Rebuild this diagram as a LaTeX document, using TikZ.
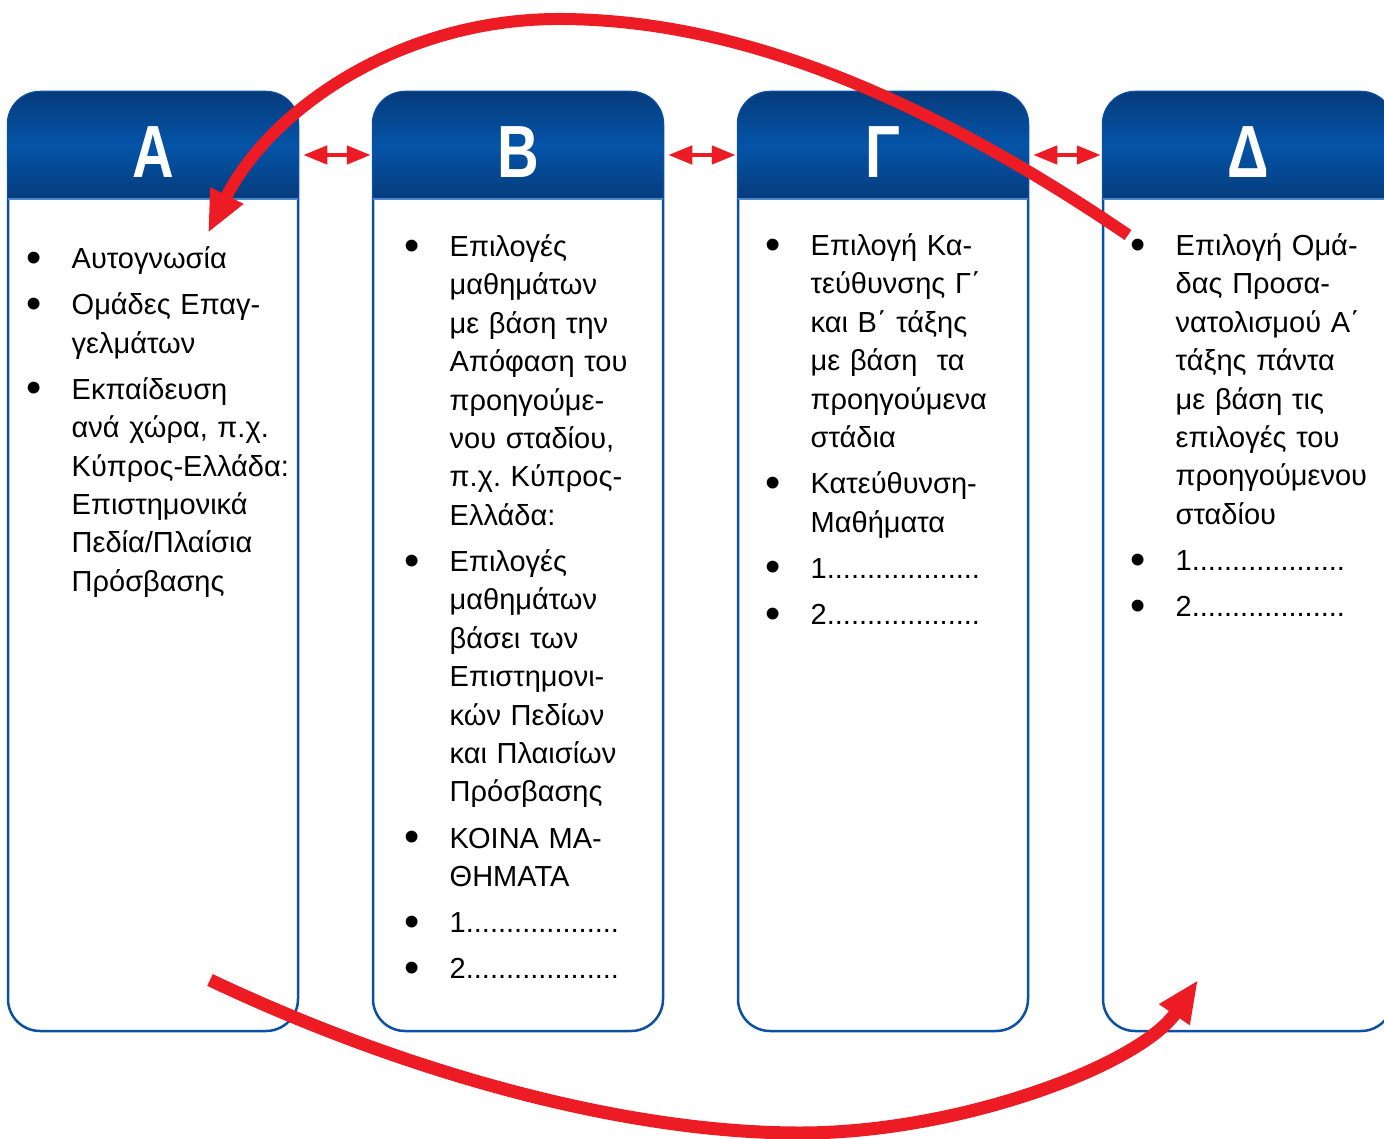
\documentclass[tikz,border=0pt]{standalone}
\usepackage{fontspec}
\setmainfont{Liberation Sans}
\usepackage{graphicx}
\usepackage{enumitem}
\usetikzlibrary{arrows.meta,positioning,calc}

\definecolor{hdrdark}{HTML}{063C7C}
\definecolor{hdrlight}{HTML}{0454A8}
\definecolor{rimblue}{HTML}{0C50A3}
\definecolor{rimlight}{HTML}{4A88D2}
\definecolor{arrred}{HTML}{ED1C24}

\newlist{stagelist}{itemize}{1}
\setlist[stagelist]{label={\makebox[10pt]{\raisebox{-3.5pt}{\scalebox{1.5}{\textbullet}}}},
  leftmargin=48.5pt, labelsep=33pt, labelwidth=10pt,
  topsep=0pt, partopsep=0pt, parsep=0pt, itemsep=7.8pt}
\frenchspacing

\begin{document}
\begin{tikzpicture}[x=1pt, y=-1pt,
    colbox/.style={draw=rimblue, line width=2.5pt, rounded corners=32pt, fill=white,
      minimum width=290pt, minimum height=939pt, inner sep=0pt},
    hdrfill/.style={top color=hdrdark, bottom color=hdrdark, middle color=hdrlight},
    hdrletter/.style={text=white, inner sep=0pt, font=\fontsize{74}{74}\selectfont\bfseries},
    stagetxt/.style={anchor=north west, inner sep=0pt, text width=300pt, align=left,
      font=\fontsize{29}{38.4}\selectfont},
    dblarr/.style={{Triangle[length=24pt,width=18pt]}-{Triangle[length=24pt,width=18pt]},
      line width=4.5pt, color=arrred, shorten <=4pt, shorten >=1pt},
    bigarr/.style={-{Triangle[length=42pt,width=34pt]}, line width=12pt, color=arrred},
  ]
  \useasboundingbox (0,0) rectangle (1384,1139);
  \clip (0,0) rectangle (1384,1139);

  % Stage columns with their headers
  \foreach \xl/\ltr/\nm in {8/Α/A, 373/Β/B, 738/Γ/G, 1103/Δ/D} {
    \node[colbox] (col\nm) at (\xl+145, 561.5) {};
    \path[hdrfill] (\xl,199) -- (\xl,124) arc[start angle=180, end angle=270, radius=32]
      -- (\xl+258,92) arc[start angle=270, end angle=360, radius=32] -- (\xl+290,199) -- cycle;
    \draw[rimlight, line width=2pt] (\xl,199) -- (\xl+290,199);
    \node[hdrletter] (hdr\nm) at (\xl+145,152) {\scalebox{0.78}[1]{\ltr}};
  }

  % Stage contents
  \node[stagetxt] (txtA) at (23,230) {%
    \begin{stagelist}
      \item\strut Αυτογνωσία
      \item Ομάδες Επαγ-\\γελμάτων
      \item Εκπαίδευση\\ανά χώρα, π.χ.\\Κύπρος-Ελλάδα:\\Επιστημονικά\\Πεδία/Πλαίσια\\Πρόσβασης
    \end{stagelist}};
  \node[stagetxt] (txtB) at (401,218) {%
    \begin{stagelist}
      \item\strut Επιλογές\\μαθημάτων\\με βάση την\\Απόφαση του\\προηγούμε-\\νου σταδίου,\\π.χ. Κύπρος-\\Ελλάδα:
      \item Επιλογές\\μαθημάτων\\βάσει των\\Επιστημονι-\\κών Πεδίων\\και Πλαισίων\\Πρόσβασης
      \item ΚΟΙΝΑ ΜΑ-\\ΘΗΜΑΤΑ
      \item 1...................
      \item 2...................
    \end{stagelist}};
  \node[stagetxt] (txtG) at (762,217) {%
    \begin{stagelist}
      \item\strut Επιλογή Κα-\\τεύθυνσης Γ΄\\και Β΄ τάξης\\με βάση~~τα\\προηγούμενα\\στάδια
      \item Κατεύθυνση-\\Μαθήματα
      \item 1...................
      \item 2...................
    \end{stagelist}};
  \node[stagetxt] (txtD) at (1127,217) {%
    \begin{stagelist}
      \item\strut Επιλογή Ομά-\\δας Προσα-\\νατολισμού Α΄\\τάξης πάντα\\με βάση τις\\επιλογές του\\προηγούμενου\\σταδίου
      \item 1...................
      \item 2...................
    \end{stagelist}};

  % Links between neighbouring stages
  \draw[dblarr] ($(hdrA -| colA.east)+(0,3)$) -- ($(hdrB -| colB.west)+(0,3)$);
  \draw[dblarr] ($(hdrB -| colB.east)+(0,3)$) -- ($(hdrG -| colG.west)+(0,3)$);
  \draw[dblarr] ($(hdrG -| colG.east)+(0,3)$) -- ($(hdrD -| colD.west)+(0,3)$);

  % Loops back and forth
  \coordinate (backstart) at (1128,235);
  \coordinate (backtop)   at (562,19);
  \coordinate (backend)   at (208,233);
  \coordinate (fwdstart)  at (210,980);
  \coordinate (fwdlow)    at (800,1133);
  \coordinate (fwdend)    at (1198,980);
  \draw[bigarr] (backstart) .. controls (900,80) and (720,20) .. (backtop)
    .. controls (400,18) and (270,110) .. (backend);
  \draw[bigarr, line width=13pt] (fwdstart) .. controls (400,1070) and (620,1133) .. (fwdlow)
    .. controls (960,1133) and (1140,1065) .. (fwdend);
\end{tikzpicture}
\end{document}
